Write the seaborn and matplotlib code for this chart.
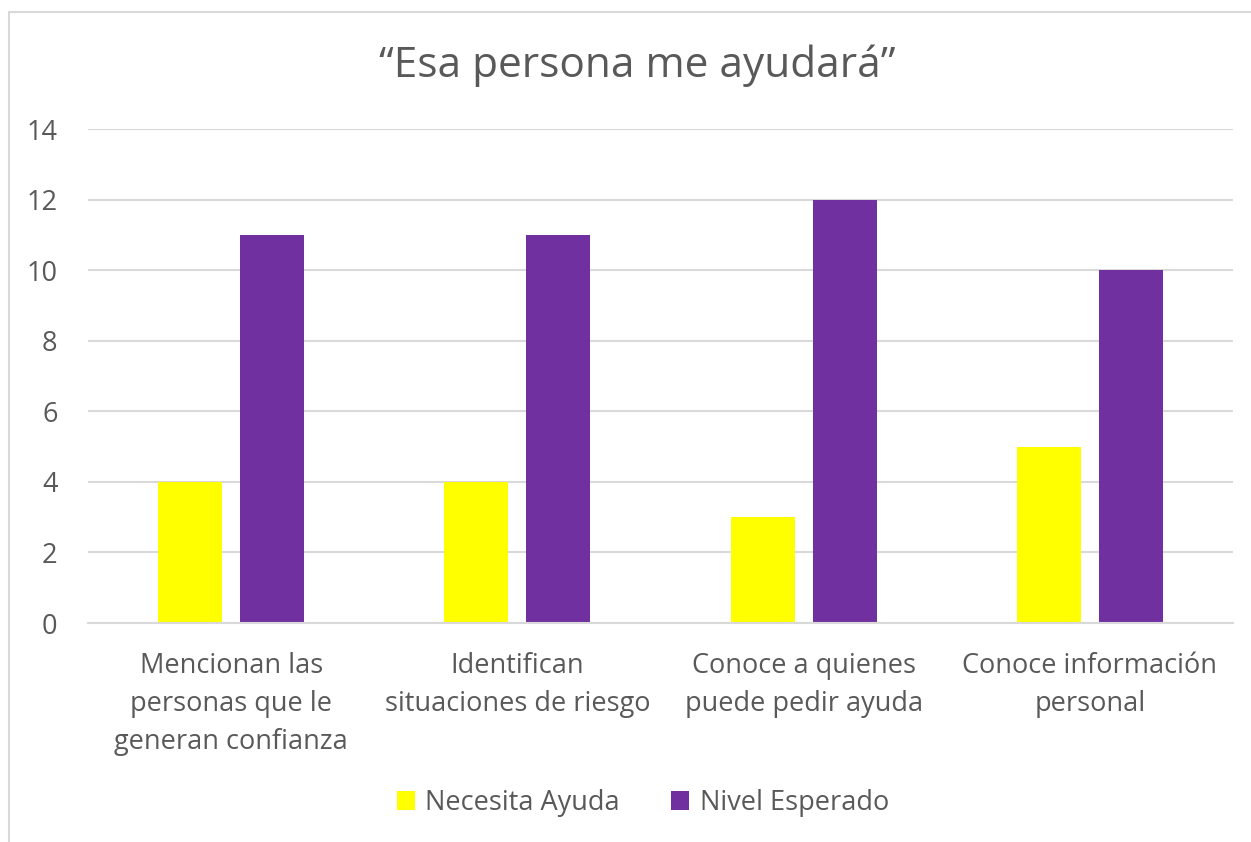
import matplotlib
matplotlib.use("Agg")
import matplotlib.pyplot as plt
import seaborn as sns
import pandas as pd
from matplotlib.patches import Patch, Rectangle

categories = [
    "Mencionan las\npersonas que le\ngeneran confianza",
    "Identifican\nsituaciones de riesgo",
    "Conoce a quienes\npuede pedir ayuda",
    "Conoce información\npersonal",
]
series_names = ["Necesita Ayuda", "Nivel Esperado"]
necesita_ayuda = [4, 4, 3, 5]
nivel_esperado = [11, 11, 12, 10]
colors = ["#FFFF00", "#7030A0"]
title = "\u201cEsa persona me ayudará\u201d"

df = pd.DataFrame({
    "cat": categories * 2,
    "serie": [series_names[0]] * 4 + [series_names[1]] * 4,
    "valor": necesita_ayuda + nivel_esperado,
})

sns.set_theme(style="white")
plt.rcParams["font.family"] = ["Open Sans", "DejaVu Sans"]
txt = "#595959"
grid = "#d9d9d9"
fs = 19.5

fig = plt.figure(figsize=(12.51, 8.42), dpi=100)
ax = fig.add_axes([88 / 1251, 1 - 623 / 842, (1233 - 88) / 1251, (623 - 129) / 842])

sns.barplot(data=df, x="cat", y="valor", hue="serie", palette=colors,
            width=0.573, gap=0.22, ax=ax, legend=False, saturation=1,
            linewidth=0, edgecolor="none")

ax.set_ylim(0, 14)
ax.set_xlim(-0.5, 3.5)
ax.set_yticks(range(0, 15, 2))
ax.yaxis.grid(True, color=grid, linewidth=1.5)
ax.set_axisbelow(True)
for s in ["top", "right", "left"]:
    ax.spines[s].set_visible(False)
ax.spines["bottom"].set_color(grid)
ax.spines["bottom"].set_linewidth(1.5)
ax.tick_params(axis="both", length=0, labelsize=fs, colors=txt)
ax.tick_params(axis="x", pad=21)
ax.tick_params(axis="y", pad=22)
for lab in ax.get_xticklabels():
    lab.set_linespacing(1.47)
ax.set_xlabel("")
ax.set_ylabel("")

fig.text(0.5096, 1 - 66 / 842, title, ha="center", va="center", fontsize=30.5, color=txt)

handles = [Patch(facecolor=c, edgecolor="none") for c in colors]
fig.legend(handles, series_names, loc="center", bbox_to_anchor=(0.514, 1 - 803 / 842),
           ncol=2, frameon=False, fontsize=fs, labelcolor=txt,
           handlelength=0.65, handleheight=0.65, handletextpad=0.4, columnspacing=1.9)

fig.patches.append(Rectangle((8.5 / 1251, -0.1), 1.2, 1.1 - 11.5 / 842,
                             transform=fig.transFigure, fill=False,
                             edgecolor=grid, linewidth=1.5))

fig.savefig("out.png", dpi=100)
